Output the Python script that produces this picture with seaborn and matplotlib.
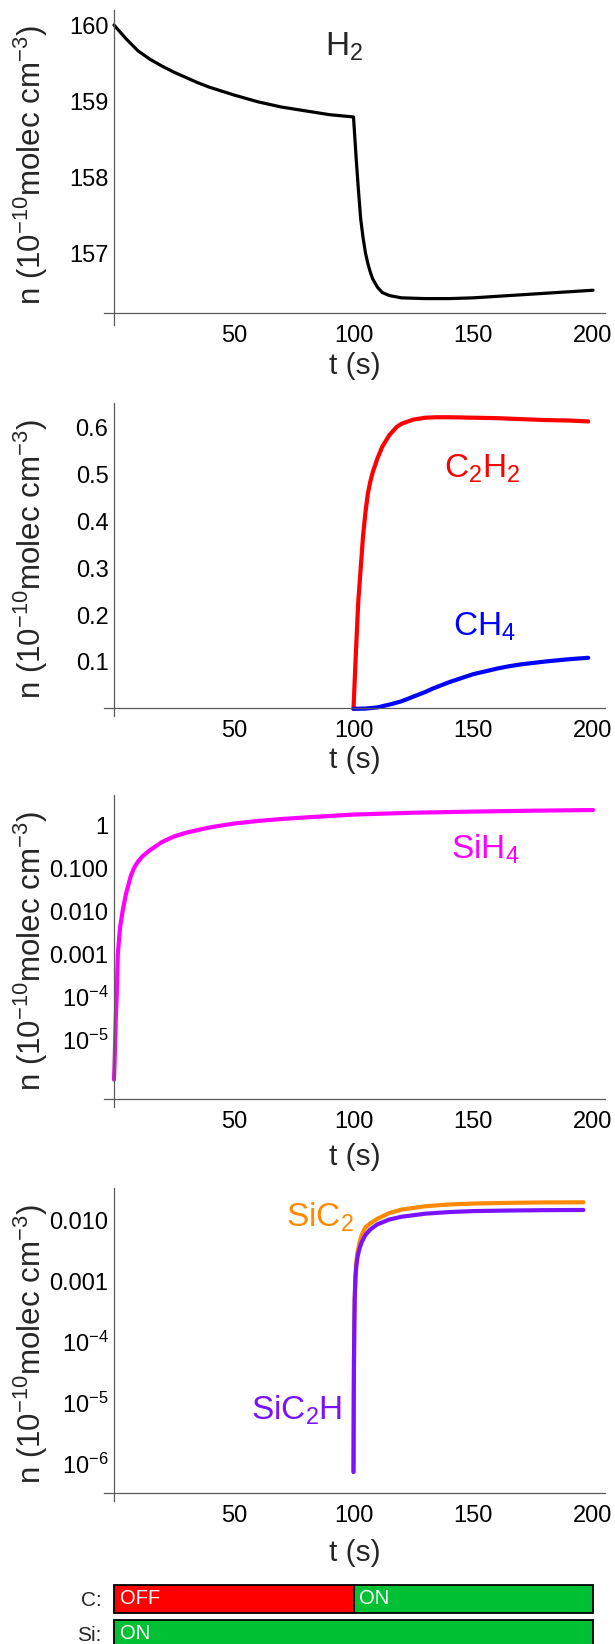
import numpy as np
import pandas as pd
import matplotlib
matplotlib.use("Agg")
import matplotlib.pyplot as plt
from matplotlib.ticker import MultipleLocator, LogLocator, NullFormatter
import seaborn as sns

# ---- data ----
t_h2 = [0, 2.5, 5, 7.5, 10, 15, 20, 25, 30, 35, 40, 45, 50, 60, 70, 80, 90,
        100, 101, 102, 103, 104, 105, 106, 107, 108, 110, 112, 115, 120, 130,
        140, 150, 160, 170, 180, 190, 200]
n_h2 = [160.0, 159.91, 159.82, 159.74, 159.66, 159.55, 159.46, 159.38, 159.31,
        159.24, 159.18, 159.13, 159.08, 158.99, 158.92, 158.87, 158.82, 158.79,
        158.3, 157.85, 157.45, 157.2, 157.0, 156.86, 156.75, 156.66, 156.55,
        156.48, 156.44, 156.41, 156.40, 156.40, 156.41, 156.43, 156.45, 156.47,
        156.49, 156.51]

t_c2h2 = [100, 100.5, 101, 102, 103, 104, 105, 106, 107, 108, 110, 112, 115,
          118, 120, 125, 130, 135, 140, 150, 160, 170, 180, 190, 198]
n_c2h2 = [0.0, 0.06, 0.12, 0.23, 0.30, 0.37, 0.42, 0.46, 0.485, 0.505, 0.535,
          0.56, 0.585, 0.602, 0.609, 0.618, 0.622, 0.623, 0.623, 0.622, 0.621,
          0.619, 0.617, 0.616, 0.614]

t_ch4 = [100, 105, 110, 115, 120, 125, 130, 133, 140, 150, 160, 165, 170,
         180, 190, 198]
n_ch4 = [0.0, 0.0005, 0.003, 0.009, 0.016, 0.026, 0.036, 0.043, 0.057, 0.074,
         0.086, 0.091, 0.095, 0.101, 0.106, 0.109]

t_sih4 = [0, 0.25, 0.5, 0.8, 1.1, 1.6, 2.5, 3.6, 5, 6, 7, 8.2, 9, 10, 12, 15,
          20, 25, 30, 40, 50, 60, 70, 80, 100, 125, 150, 175, 200]
n_sih4 = [1.2e-6, 3e-6, 1e-5, 4e-5, 1e-4, 1e-3, 4e-3, 0.01, 0.025, 0.04, 0.065,
          0.095, 0.115, 0.14, 0.19, 0.26, 0.40, 0.54, 0.66, 0.88, 1.08, 1.24,
          1.38, 1.5, 1.75, 1.93, 2.05, 2.15, 2.23]

t_si = [100, 100.1, 100.2, 100.35, 100.5, 100.8, 101.2, 101.7, 102.5, 103.5,
        105, 107, 110, 115, 120, 130, 140, 150, 165, 180, 196]
n_sic2h = [7.4e-7, 1e-5, 5e-5, 2e-4, 5e-4, 1.1e-3, 1.8e-3, 2.5e-3, 3.4e-3,
           4.4e-3, 5.7e-3, 7.0e-3, 8.5e-3, 1.02e-2, 1.13e-2, 1.27e-2, 1.35e-2,
           1.40e-2, 1.43e-2, 1.45e-2, 1.46e-2]
n_sic2 = [7.4e-7, 1e-5, 5e-5, 2e-4, 5e-4, 1.2e-3, 2.1e-3, 3.0e-3, 4.3e-3,
          5.8e-3, 7.6e-3, 8.8e-3, 1.05e-2, 1.3e-2, 1.48e-2, 1.68e-2, 1.80e-2,
          1.86e-2, 1.91e-2, 1.94e-2, 1.95e-2]

# source on/off timeline
c_start = [0, 100]
c_width = [100, 100]
c_state = ["OFF", "ON"]
si_start = [0]
si_width = [200]
si_state = ["ON"]

x_ticks = [50, 100, 150, 200]

# ---- style ----
sns.set_style("white")
plt.rcParams["font.family"] = ["Liberation Sans", "DejaVu Sans"]
plt.rcParams["mathtext.fontset"] = "custom"
plt.rcParams["mathtext.rm"] = "Liberation Sans"
plt.rcParams["mathtext.it"] = "Liberation Sans:italic"
plt.rcParams["mathtext.bf"] = "Liberation Sans:bold"
plt.rcParams["mathtext.default"] = "regular"

W, H = 615, 1644
fig = plt.figure(figsize=(W / 100, H / 100), dpi=100)

AX_L, AX_R = 104, 605      # pixel extent of x axis line
T0, PX_PER_S = 114, 2.395  # pixel of t=0 and scale
XLIM = ((AX_L - T0) / PX_PER_S, (AX_R - T0) / PX_PER_S)
AXIS_GRAY = "#5a5a5a"
YLABEL = r"n (10$^{-10}$molec cm$^{-3}$)"

on_green = "#00c034"
off_red = "#ff0000"


def fx(px):
    return px / W


def fy(py):
    return 1 - py / H


def make_panel(top, xaxis, ext, v0, p0, scale, log=False):
    bottom = xaxis + ext
    ax = fig.add_axes([fx(AX_L), fy(bottom), (AX_R - AX_L) / W, (bottom - top) / H])
    lo = v0 - (bottom - p0) / scale
    hi = v0 + (p0 - top) / scale
    ax_v = v0 - (xaxis - p0) / scale
    if log:
        ax.set_yscale("log")
        ax.set_ylim(10 ** lo, 10 ** hi)
        ax.spines["bottom"].set_position(("data", 10 ** ax_v))
    else:
        ax.set_ylim(lo, hi)
        ax.spines["bottom"].set_position(("data", ax_v))
    ax.set_xlim(*XLIM)
    ax.spines["left"].set_position(("data", 0))
    for s in ["top", "right"]:
        ax.spines[s].set_visible(False)
    for s in ["left", "bottom"]:
        ax.spines[s].set_color(AXIS_GRAY)
        ax.spines[s].set_linewidth(0.9)
    ax.set_xticks(x_ticks)
    ax.xaxis.set_minor_locator(MultipleLocator(10))
    ax.tick_params(which="both", direction="in", color=AXIS_GRAY, width=0.8,
                   labelsize=17, labelcolor="black")
    ax.tick_params(which="major", length=4.5)
    ax.tick_params(which="minor", length=2.3)
    ax.tick_params(axis="x", pad=8.5)
    ax.tick_params(axis="y", pad=4)
    ax.set_ylabel(YLABEL, fontsize=22.5, va="center")
    ax.yaxis.set_label_coords(fx(31), fy((top + xaxis) / 2 + 4), transform=fig.transFigure)
    return ax


def t_label(ax, py):
    ax.set_xlabel("t (s)", fontsize=21.5, va="center")
    ax.xaxis.set_label_coords(fx(355), fy(py), transform=fig.transFigure)


SPEC_FS = 24

# panel 1: H2
ax1 = make_panel(10, 313, 12, 160, 25, 76)
sns.lineplot(x=t_h2, y=n_h2, ax=ax1, color="black", lw=2.3, estimator=None, sort=False)
ax1.set_yticks([157, 158, 159, 160])
ax1.yaxis.set_minor_locator(MultipleLocator(0.2))
t_label(ax1, 366)
fig.text(fx(344), fy(47), r"H$_2$", fontsize=SPEC_FS, ha="center", va="center")

# panel 2: C2H2, CH4
ax2 = make_panel(403, 708, 8, 0.6, 428, 468)
sns.lineplot(x=t_c2h2, y=n_c2h2, ax=ax2, color="#ff0000", lw=3, estimator=None, sort=False)
sns.lineplot(x=t_ch4, y=n_ch4, ax=ax2, color="#0000ff", lw=3, estimator=None, sort=False)
ax2.set_yticks([0.1, 0.2, 0.3, 0.4, 0.5, 0.6])
ax2.yaxis.set_minor_locator(MultipleLocator(0.02))
t_label(ax2, 760)
fig.text(fx(482), fy(469), r"C$_2$H$_2$", fontsize=SPEC_FS, color="#ff0000", ha="center", va="center")
fig.text(fx(484), fy(627), r"CH$_4$", fontsize=SPEC_FS, color="#0000ff", ha="center", va="center")

# panel 3: SiH4
ax3 = make_panel(795, 1099, 8, 0, 825, 43, log=True)
sns.lineplot(x=t_sih4, y=n_sih4, ax=ax3, color="#ff00ff", lw=3, estimator=None, sort=False)
ax3.set_yticks([1, 0.1, 0.01, 0.001, 1e-4, 1e-5],
               ["1", "0.100", "0.010", "0.001", r"10$^{-4}$", r"10$^{-5}$"])
ax3.yaxis.set_minor_locator(LogLocator(base=10, subs=np.arange(2, 10)))
ax3.yaxis.set_minor_formatter(NullFormatter())
t_label(ax3, 1157)
fig.text(fx(485), fy(849), r"SiH$_4$", fontsize=SPEC_FS, color="#ff00ff", ha="center", va="center")

# panel 4: SiC2, SiC2H
ax4 = make_panel(1188, 1493, 8, -2, 1220, 61, log=True)
sns.lineplot(x=t_si, y=n_sic2, ax=ax4, color="#ff8a00", lw=3, estimator=None, sort=False)
sns.lineplot(x=t_si, y=n_sic2h, ax=ax4, color="#7a12ff", lw=3, estimator=None, sort=False)
ax4.set_yticks([0.01, 0.001, 1e-4, 1e-5, 1e-6],
               ["0.010", "0.001", r"10$^{-4}$", r"10$^{-5}$", r"10$^{-6}$"])
ax4.yaxis.set_minor_locator(LogLocator(base=10, subs=np.arange(2, 10)))
ax4.yaxis.set_minor_formatter(NullFormatter())
t_label(ax4, 1553)
fig.text(fx(320), fy(1217), r"SiC$_2$", fontsize=SPEC_FS, color="#ff8a00", ha="center", va="center")
fig.text(fx(297), fy(1410), r"SiC$_2$H", fontsize=SPEC_FS, color="#7a12ff", ha="center", va="center")

# source timeline bars
axb = fig.add_axes([fx(AX_L), fy(1644), (AX_R - AX_L) / W, (1644 - 1578) / H])
rows = pd.DataFrame({
    "row": [0] * len(c_start) + [1] * len(si_start),
    "start": c_start + si_start,
    "width": c_width + si_width,
    "state": c_state + si_state,
})
colors = [on_green if s == "ON" else off_red for s in rows["state"]]
axb.barh(rows["row"], rows["width"], left=rows["start"], height=0.8,
         color=colors, edgecolor="black", linewidth=1.3)
for _, r in rows.iterrows():
    axb.text(r["start"] + 2.5, r["row"], r["state"], color="white", fontsize=14.5,
             ha="left", va="center")
axb.set_xlim(*XLIM)
axb.set_ylim(1.286, -0.6)
axb.set_xticks([])
axb.set_yticks([0, 1], ["C:", "Si:"])
axb.tick_params(axis="y", length=0, pad=1.5, labelsize=15)
for s in axb.spines.values():
    s.set_visible(False)

fig.savefig("out.png", dpi=100)
